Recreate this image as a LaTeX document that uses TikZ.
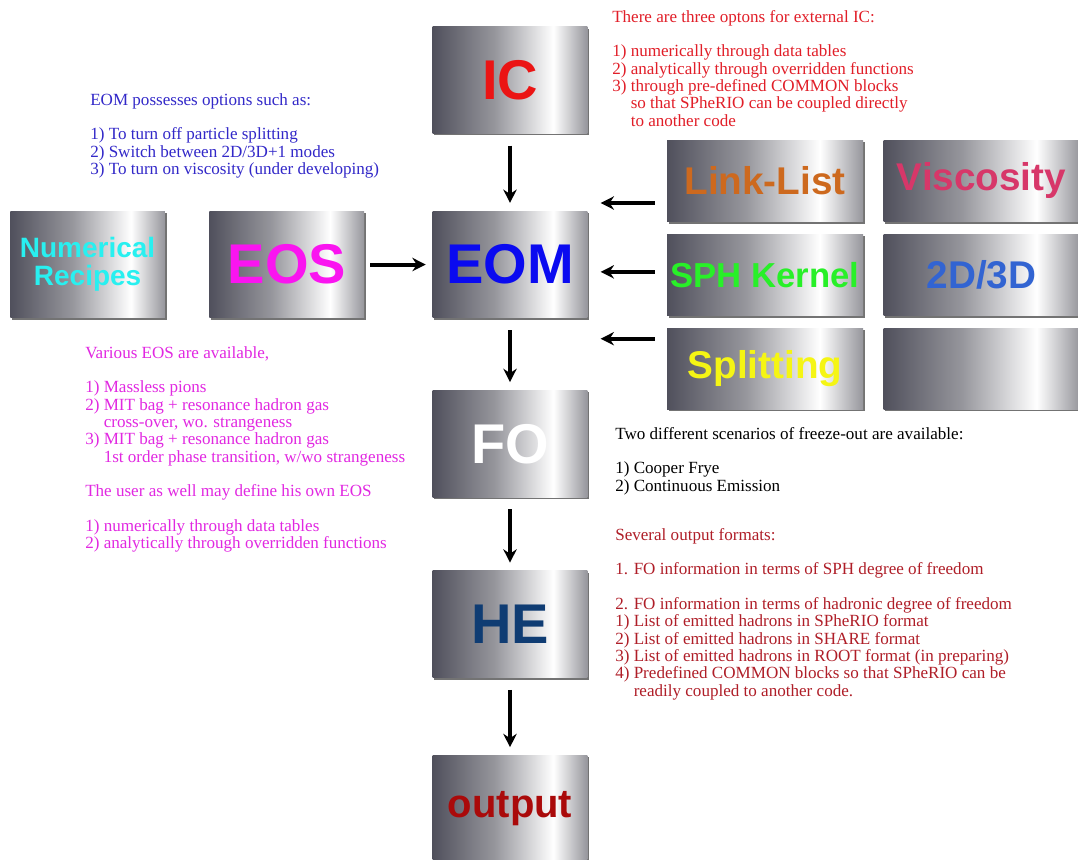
\documentclass[tikz,border=0pt]{standalone}
\usepackage{fontspec}
\setmainfont{Liberation Serif}
\setsansfont{Liberation Sans}
\usetikzlibrary{positioning,calc,shadows,arrows.meta}

\definecolor{metaldark}{RGB}{80,80,92}
\definecolor{metalmid}{RGB}{150,150,156}
\definecolor{metaledge}{RGB}{150,150,156}
\pgfdeclarehorizontalshading{brushed}{100bp}{color(0bp)=(metaldark); color(25bp)=(metaldark); color(45bp)=(metalmid); color(64bp)=(white); color(75bp)=(metaledge); color(100bp)=(metaledge)}

\definecolor{icred}{RGB}{235,20,20}
\definecolor{eomblue}{RGB}{10,10,240}
\definecolor{eosmag}{RGB}{250,20,240}
\definecolor{nrcyan}{RGB}{40,240,240}
\definecolor{hedark}{RGB}{15,60,115}
\definecolor{outred}{RGB}{170,10,10}
\definecolor{llorange}{RGB}{205,105,30}
\definecolor{viscpink}{RGB}{215,55,105}
\definecolor{sphgreen}{RGB}{40,240,40}
\definecolor{ddblue}{RGB}{50,100,210}
\definecolor{splyellow}{RGB}{245,245,20}
\definecolor{icnote}{RGB}{225,30,40}
\definecolor{eomnote}{RGB}{50,40,200}
\definecolor{eosnote}{RGB}{225,40,225}
\definecolor{outnote}{RGB}{175,30,40}

\begin{document}
\begin{tikzpicture}[x=0.75pt,y=-0.75pt,
   plate/.style={shading=brushed,drop shadow={shadow xshift=1.2pt,shadow yshift=-1.5pt,fill=black,opacity=0.55},
   minimum width=116pt,minimum height=80pt,inner sep=0pt,font=\sffamily\bfseries\fontsize{42}{42}\selectfont},
   tile/.style={plate,minimum width=147pt,minimum height=61pt,font=\sffamily\bfseries\fontsize{29}{29}\selectfont},
   flow/.style={-{Stealth[length=10pt,width=10pt]},line width=3pt,shorten <=9pt,shorten >=6pt},
   note/.style={anchor=north west,align=left,inner sep=0pt,font=\fontsize{12.8}{13}\selectfont},
   node distance=55pt]

   \useasboundingbox (0,0) rectangle (1078,860);

   %main chain
   \node[plate,text=icred] (ic) at (510,80) {IC};
   \node[plate,text=eomblue,below=58pt of ic] (eom) {EOM};
   \node[plate,text=white,below=54pt of eom] (fo) {FO};
   \node[plate,text=hedark,below=of fo] (he) {HE};
   \node[plate,text=outred,below=58pt of he,font=\sffamily\bfseries\fontsize{30}{30}\selectfont] (out) {output};

   \node[plate,text=eosmag,left=51pt of eom] (eos) {EOS};
   \node[plate,text=nrcyan,left=33pt of eos,align=center,font=\sffamily\bfseries\fontsize{21}{21}\selectfont] (nr) {Numerical\\Recipes};

   %modules on the right
   \node[tile,text=llorange] (link) at (765,181) {Link-List};
   \node[tile,text=viscpink,right=15pt of link] (visc) {Viscosity};
   \node[tile,text=sphgreen,below=9pt of link,font=\sffamily\bfseries\fontsize{26}{26}\selectfont] (sph) {SPH Kernel};
   \node[tile,text=ddblue,right=15pt of sph] (dd) {2D/3D};
   \node[tile,text=splyellow,below=9pt of sph] (split) {Splitting};
   \node[tile,right=15pt of split] (spare) {};

   \draw[flow] (ic) -- (eom);
   \draw[flow] (eom) -- (fo);
   \draw[flow] (fo) -- (he);
   \draw[flow] (he) -- (out);
   \draw[flow,shorten <=4.5pt,shorten >=5pt] (eos) -- (eom);
   \draw[flow,shorten <=0pt,shorten >=0pt] ($(link.west)+(-9pt,-16.5pt)$) -- ($(eom.east |- link.west)+(9.75pt,-16.5pt)$);
   \draw[flow,shorten <=0pt,shorten >=0pt] ($(sph.west)+(-9pt,2.25pt)$) -- ($(eom.east |- sph.west)+(9.75pt,2.25pt)$);
   \draw[flow,shorten <=0pt,shorten >=0pt] ($(split.west)+(-9pt,22.5pt)$) -- ($(eom.east |- split.west)+(9.75pt,22.5pt)$);

   %notes
   \node[note,text=icnote] (icnote) at (612,10) {There are three optons for external IC:\\[\baselineskip]
     1) numerically through data tables\\
     2) analytically through overridden functions\\
     3) through pre-defined COMMON blocks\\
     \phantom{3) }so that SPheRIO can be coupled directly\\
     \phantom{3) }to another code};
   \node[note,text=eomnote] (eomnote) at (90,93) {EOM possesses options such as:\\[\baselineskip]
     1) To turn off particle splitting\\
     2) Switch between 2D/3D+1 modes\\
     3) To turn on viscosity (under developing)};
   \node[note,text=eosnote] (eosnote) at (85,346) {Various EOS are available,\\[\baselineskip]
     1) Massless pions\\
     2) MIT bag + resonance hadron gas\\
     \phantom{2) }cross-over, wo. strangeness\\
     3) MIT bag + resonance hadron gas\\
     \phantom{3) }1st order phase transition, w/wo strangeness\\[\baselineskip]
     The user as well may define his own EOS\\[\baselineskip]
     1) numerically through data tables\\
     2) analytically through overridden functions};
   \node[note] (fonote) at (615,427) {Two different scenarios of freeze-out are available:\\[\baselineskip]
     1) Cooper Frye\\
     2) Continuous Emission};
   \node[note,text=outnote] (outnote) at (615,528) {Several output formats:\\[\baselineskip]
     1. FO information in terms of SPH degree of freedom\\[\baselineskip]
     2. FO information in terms of hadronic degree of freedom\\
     1) List of emitted hadrons in SPheRIO format\\
     2) List of emitted hadrons in SHARE format\\
     3) List of emitted hadrons in ROOT format (in preparing)\\
     4) Predefined COMMON blocks so that SPheRIO can be\\
     \phantom{4) }readily coupled to another code.};

\end{tikzpicture}
\end{document}
